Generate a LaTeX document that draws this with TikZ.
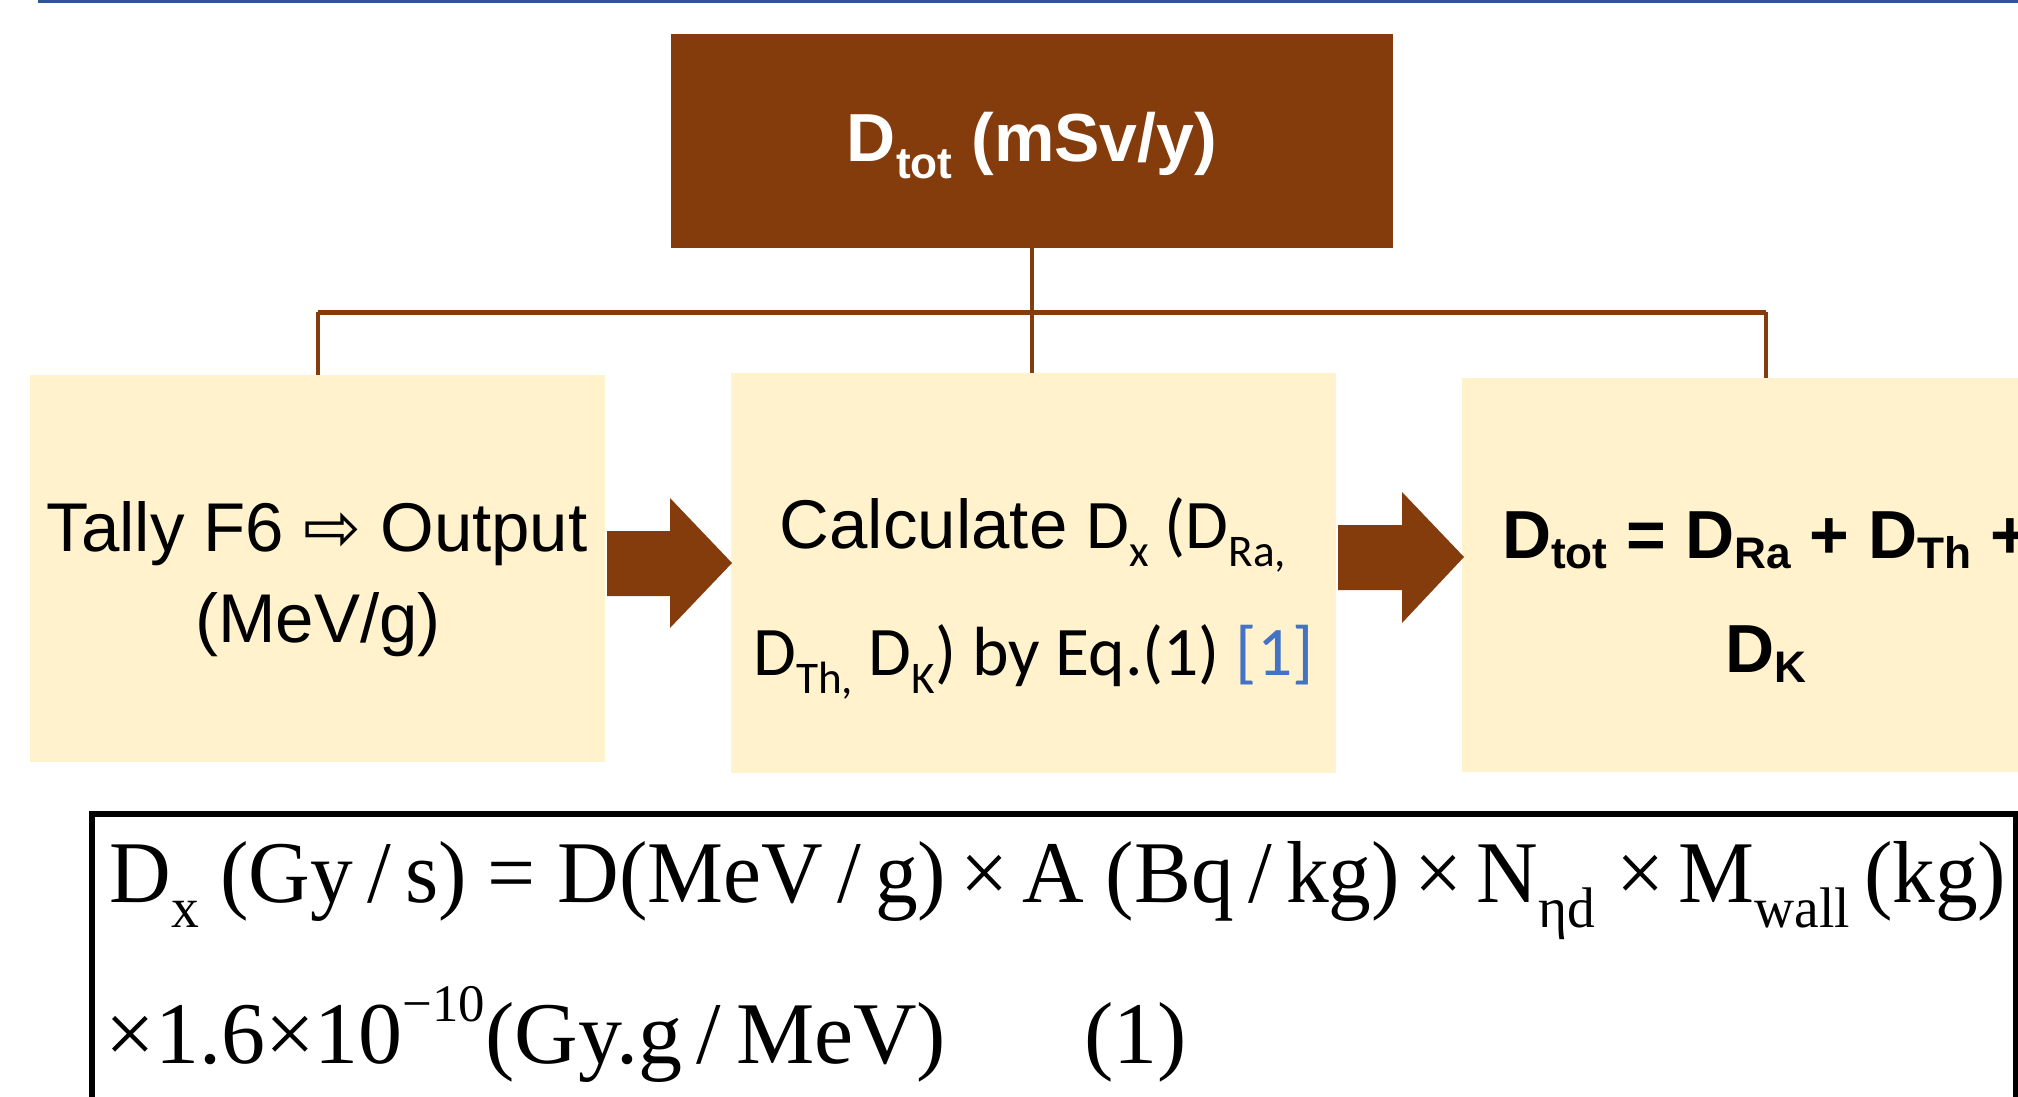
\documentclass[tikz,border=0pt]{standalone}
\usepackage{fontspec}
\usepackage{graphicx}
\setmainfont{Liberation Sans}
\newfontfamily\carl{Carlito}
\newfontfamily\tms{Liberation Serif}
\newfontfamily\djv{DejaVu Sans}
\definecolor{brn}{HTML}{843C0C}
\definecolor{cream}{HTML}{FFF2CC}
\definecolor{topblue}{HTML}{2F5597}
\definecolor{refblue}{HTML}{4472C4}
\newcommand\lo[2][0.24em]{\raisebox{-#1}{\scalebox{0.65}{#2}}}
\newcommand\hi[2][0.47em]{\raisebox{#1}{\scalebox{0.6}{#2}}}
\newcommand\cf{\carl\fontsize{34.8pt}{40pt}\selectfont}
\tikzset{
  box/.style={fill=cream, draw=none, inner sep=0pt},
  topbox/.style={fill=brn, draw=none, inner sep=0pt},
  conn/.style={draw=brn, line width=2pt},
  hconn/.style={draw=brn, line width=2.6pt},
  blockarrow/.style={fill=brn, draw=none},
  sans/.style={font=\fontsize{34.5pt}{40pt}\selectfont, inner sep=0pt},
  bsans/.style={font=\bfseries\fontsize{34pt}{40pt}\selectfont, inner sep=0pt},
  eqtext/.style={font=\tms\fontsize{44pt}{50pt}\selectfont, inner sep=0pt},
}
\begin{document}
\begin{tikzpicture}[x=0.5pt,y=-0.5pt]
\useasboundingbox (0,0) rectangle (2018,1097);
\clip (0,0) rectangle (2018,1097);
% top rule
\fill[topblue] (38,0) rectangle (2018,3);
% boxes
\node[topbox, minimum width=361pt, minimum height=107pt] (top) at (1032,141) {};
\node[box, minimum width=287.5pt, minimum height=193.5pt] (left) at (317.5,568.5) {};
\node[box, minimum width=302.5pt, minimum height=200pt] (mid) at (1033.5,573) {};
\node[box, minimum width=304pt, minimum height=197pt] (right) at (1766,575) {};
% connectors
\draw[conn] (top.south) -- ++(0,64) coordinate (j);
\draw[hconn] (j) -- (j -| left.north);
\draw[hconn] (j) -- (j -| right.north);
\draw[conn] (j -| left.north) -- (left.north);
\draw[conn] (j -| right.north) -- (right.north);
\draw[conn] (j) -- (j |- mid.north);
% block arrows
\fill[blockarrow] (607,531) -- (670,531) -- (670,498) -- (732,563) -- (670,628) -- (670,596) -- (607,596) -- cycle;
\fill[blockarrow] (1338,525) -- (1402,525) -- (1402,492) -- (1464,557) -- (1402,623) -- (1402,590) -- (1338,590) -- cycle;
% texts
\node[font=\bfseries\fontsize{34pt}{40pt}\selectfont, text=white, anchor=base, inner sep=0pt] (ttop) at (1032,162) {D\lo{tot} (mSv/y)};
\node[sans, anchor=base] (l1) at (317,551) {Tally F6 {\djv\scalebox{1.0}{⇨}} Output};
\node[sans, anchor=base] (l2) at (318,642) {(MeV/g)};
\node[sans, anchor=base] (m1) at (1033,548) {Calculate {\cf D\lo[0.27em]{x} (D\lo[0.27em]{Ra,}}};
\node[sans, anchor=base] (m2) at (1033.5,675) {\cf D\lo[0.27em]{Th,} D\lo[0.27em]{K}) by Eq.(1) \textcolor{refblue}{[1]}};
\node[bsans, anchor=base] (r1) at (1766,558) {D\lo[0.15em]{tot} = D\lo[0.15em]{Ra} + D\lo[0.15em]{Th} +};
\node[bsans, anchor=base] (r2) at (1766,672) {D\lo[0.15em]{K}};
% equation box
\draw[line width=3pt] (92,813.5) rectangle (2016,1120);
\node[eqtext, anchor=base west] (e1) at (109,902) {\scalebox{0.97}[1]{D\lo[0.29em]{x} (Gy\,/\,s) = D(MeV\,/\,g)\,×\,A (Bq\,/\,kg)\,×\,N\lo[0.29em]{ηd} ×\,M\lo[0.29em]{wall}\,(kg)}};
\node[eqtext, anchor=base west] (e2) at (105,1063) {×1.6×10\hi{−10}(Gy.g\,/\,MeV)};
\node[eqtext, anchor=base west] (e3) at (1084,1063) {(1)};
\end{tikzpicture}
\end{document}
